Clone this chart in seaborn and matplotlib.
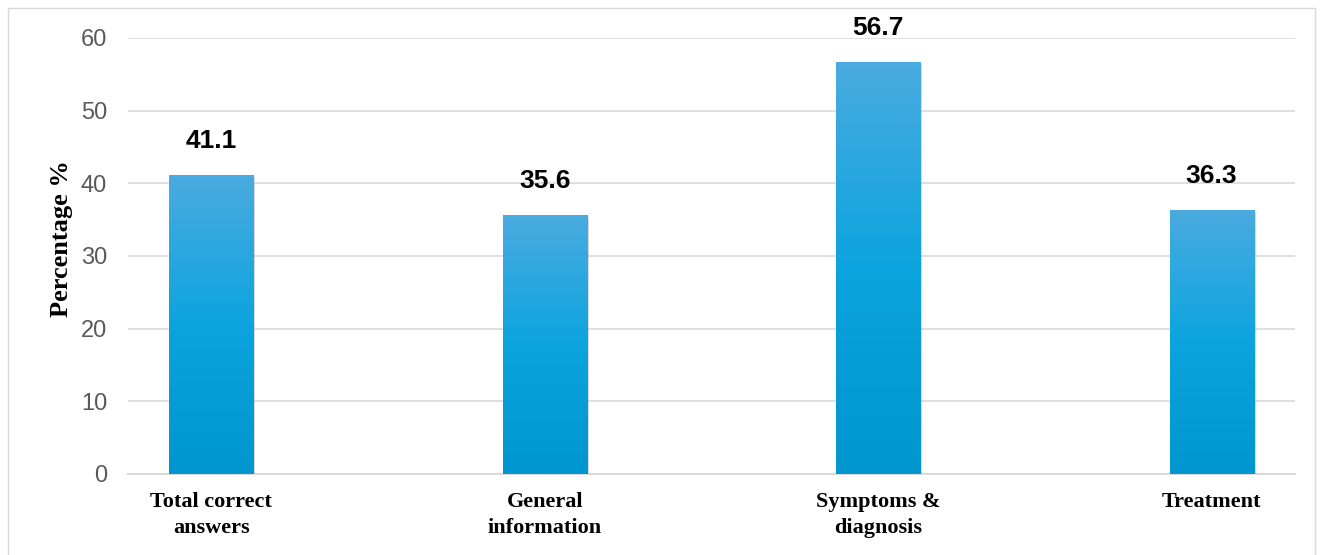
import numpy as np
import pandas as pd
import matplotlib
matplotlib.use("Agg")
import matplotlib.pyplot as plt
import matplotlib.patheffects as pe
from matplotlib.colors import LinearSegmentedColormap
from matplotlib.patches import Rectangle
import seaborn as sns

categories = ["Total correct\nanswers", "General\ninformation", "Symptoms &\ndiagnosis", "Treatment"]
values = [41.1, 35.6, 56.7, 36.3]
y_ticks = [0, 10, 20, 30, 40, 50, 60]

sns.set_theme(style="white")
plt.rcParams['font.family'] = ['Liberation Sans', 'DejaVu Sans']

df = pd.DataFrame({"category": categories, "value": values})

fig = plt.figure(figsize=(13.25, 5.55), dpi=100)
ax = fig.add_axes([128 / 1325, 1 - 474 / 555, 1167 / 1325, 436 / 555])

sns.barplot(data=df, x="category", y="value", color="#0AA3DD", width=0.252, ax=ax,
            zorder=3, saturation=1)

ax.set_xlim(-0.25, 3.25)
ax.set_ylim(0, 60)
ax.set_yticks(y_ticks)
ax.yaxis.grid(True, color="#D9D9D9", linewidth=1.2, zorder=0)
ax.set_axisbelow(True)
for s in ["top", "right", "left"]:
    ax.spines[s].set_visible(False)
ax.spines["bottom"].set_color("#D9D9D9")
ax.spines["bottom"].set_linewidth(1.4)
ax.tick_params(axis="y", length=0, pad=15, labelsize=17, labelcolor="#595959")
ax.tick_params(axis="x", length=0, pad=13)
for lab in ax.get_xticklabels():
    lab.set_fontfamily(["Liberation Serif", "DejaVu Serif"])
    lab.set_fontweight("bold")
    lab.set_fontsize(16)
    lab.set_color("black")
    lab.set_linespacing(1.4)

ax.set_xlabel("")
ax.set_ylabel("Percentage %", fontfamily=["Liberation Serif", "DejaVu Serif"],
              fontweight="bold", fontsize=19, color="black", va="center")
ax.yaxis.set_label_coords(-0.0574, 0.539)

# gradient fill + shadow for bars
cmap = LinearSegmentedColormap.from_list("grad", ["#0096CF", "#0CA4DE", "#4AABE0"])
grad = np.linspace(0, 1, 256).reshape(-1, 1)
for bar in ax.patches:
    x0, y0 = bar.get_x(), bar.get_y()
    w, h = bar.get_width(), bar.get_height()
    bar.set_path_effects([pe.SimplePatchShadow(offset=(1.5, -1.5), shadow_rgbFace="#808080", alpha=0.35),
                          pe.Normal()])
    im = ax.imshow(grad, extent=(x0, x0 + w, y0, y0 + h), origin="lower", cmap=cmap,
                   aspect="auto", zorder=4)
    im.set_clip_path(bar)
    ax.annotate(f"{h:.1f}", xy=(x0 + w / 2, h), xytext=(0, 19.5), textcoords="offset points",
                ha="center", va="baseline", fontsize=19, fontweight="bold", color="black", zorder=5)

ax.set_xlim(-0.25, 3.25)
ax.set_ylim(0, 60)

# outer frame
fig.patches.append(Rectangle((8 / 1325, -0.1), 1307 / 1325, 1.1 - 8 / 555, transform=fig.transFigure,
                             fill=False, edgecolor="#D9D9D9", linewidth=1.0))

fig.savefig("out.png", dpi=100)
